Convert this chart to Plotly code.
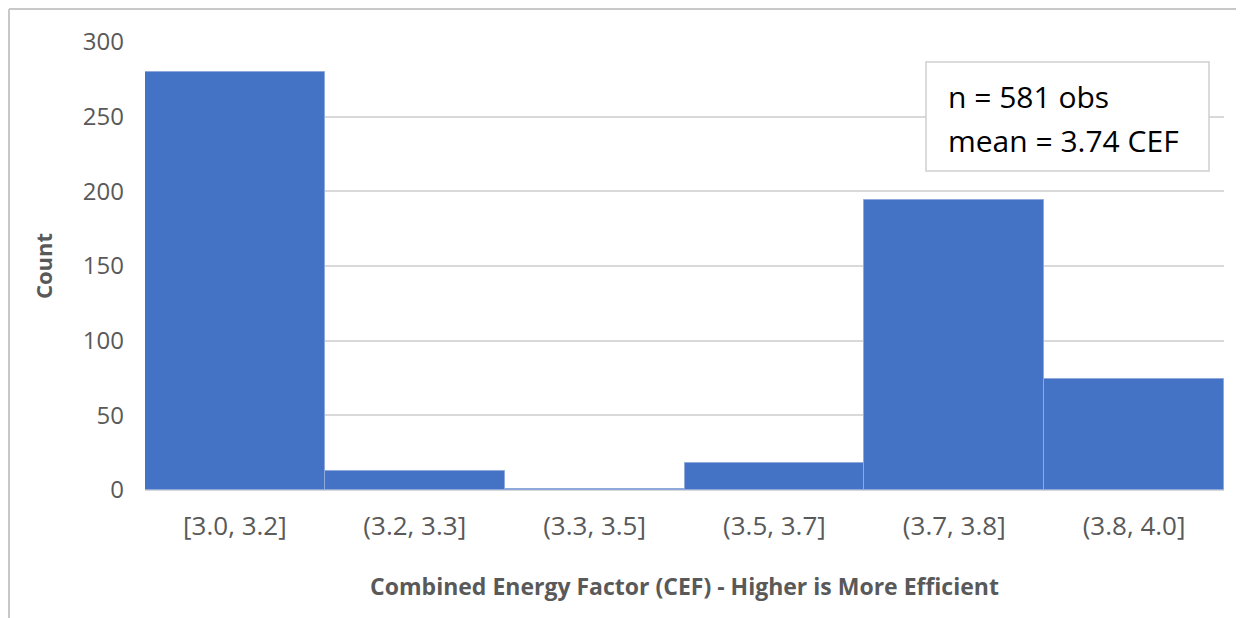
import plotly.graph_objects as go

bins = ["[3.0, 3.2]", "(3.2, 3.3]", "(3.3, 3.5]", "(3.5, 3.7]", "(3.7, 3.8]", "(3.8, 4.0]"]
counts = [280, 13, 1, 18, 194, 74]
y_ticks = [0, 50, 100, 150, 200, 250, 300]
n_obs = 581
mean_cef = 3.74

# page has an 8px body margin, so the figure is drawn 8px smaller and offset
OFF = 8
W, H = 1244 - OFF, 618 - OFF
L, R, T, B = 137, 20, 34, 128
pw, ph = W - L - R, H - T - B
FONT = "Open Sans, Lato, sans-serif"


def px_x(x):
    # page pixel -> paper coordinate
    return (x - OFF - L) / pw


def px_y(y):
    return (H - B - (y - OFF)) / ph


fig = go.Figure(
    go.Bar(
        x=bins,
        y=counts,
        marker=dict(color="#4472C4", line=dict(color="#8fa9dc", width=1)),
    )
)

fig.update_layout(
    width=W,
    height=H,
    margin=dict(l=L, r=R, t=T, b=B),
    plot_bgcolor="white",
    paper_bgcolor="white",
    bargap=0,
    showlegend=False,
    font=dict(family=FONT, color="#595959"),
)

fig.update_xaxes(
    type="category",
    showgrid=False,
    showline=True,
    linecolor="#d9d9d9",
    linewidth=1,
    ticks="",
    tickfont=dict(size=26, color="#595959"),
    ticklabelstandoff=13,
    title=dict(
        text="<b>Combined Energy Factor (CEF) - Higher is More Efficient</b>",
        font=dict(size=23, color="#595959"),
        standoff=36,
    ),
)

fig.update_yaxes(
    range=[0, 300],
    tickvals=y_ticks,
    showgrid=True,
    gridcolor="#d9d9d9",
    gridwidth=1.5,
    zeroline=False,
    showline=False,
    tickfont=dict(size=24, color="#595959"),
    ticklabelstandoff=20,
    title=dict(text="<b>Count</b>", font=dict(size=22, color="#595959"), standoff=24),
)

# stats box
fig.add_shape(
    type="rect", xref="paper", yref="paper",
    x0=px_x(926), x1=px_x(1209), y0=px_y(171), y1=px_y(62),
    line=dict(color="#d0d0d0", width=1.5), fillcolor="white", layer="above",
)
for txt, yc in [(f"n = {n_obs} obs", 97), (f"mean = {mean_cef:.2f} CEF", 140)]:
    fig.add_annotation(
        xref="paper", yref="paper", x=px_x(946), y=px_y(yc),
        xanchor="left", yanchor="middle", align="left", showarrow=False,
        text=txt, font=dict(size=30, color="black", family=FONT),
    )

# outer chart border (top and left edges visible)
fig.add_shape(type="line", xref="paper", yref="paper",
              x0=px_x(9), x1=px_x(1244), y0=px_y(9), y1=px_y(9),
              line=dict(color="#c8c8c8", width=2))
fig.add_shape(type="line", xref="paper", yref="paper",
              x0=px_x(9), x1=px_x(9), y0=px_y(9), y1=px_y(618),
              line=dict(color="#c8c8c8", width=2))

fig.write_html("out.html")
